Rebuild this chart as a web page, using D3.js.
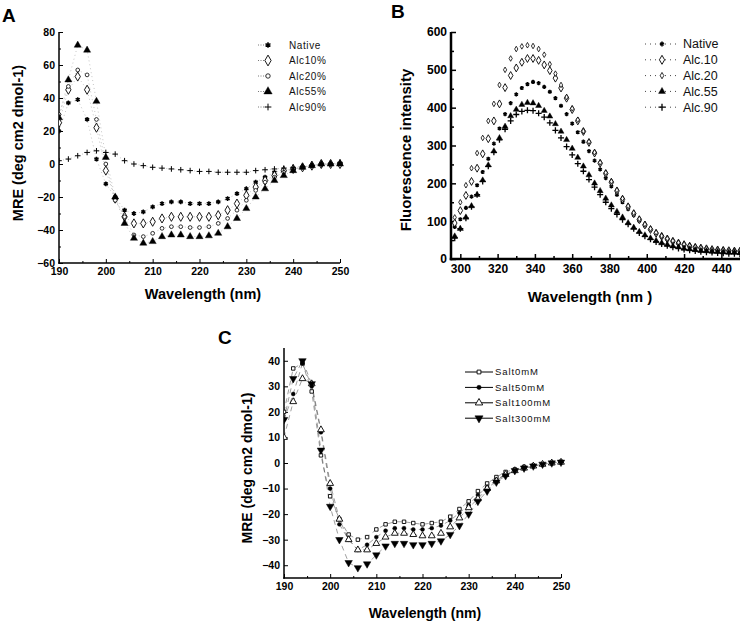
<!DOCTYPE html>
<html><head><meta charset="utf-8">
<script src="https://cdn.jsdelivr.net/npm/d3@7"></script>
<style>body{margin:0;background:#fff;} text{font-family:"Liberation Sans",Arial,sans-serif;}</style>
</head><body>
<svg id="c" width="740" height="621"></svg>
<script>
// ---------- Panel A data (CD spectra, alcohol) ----------
const wlA = d3.range(190, 251, 2);
const A_native = [20,37,39,27,3,-12,-20,-28,-30,-29,-26,-24,-23,-23,-24,-24,-24,-23,-21,-18,-15,-11,-8,-5,-4,-3,-2,-1,0,0,0];
const A_alc10  = [25,45,53,45,22,-4,-21,-32,-36,-36,-35,-33,-32,-32,-32,-32,-32,-31,-28,-24,-19,-14,-10,-7,-4,-3,-2,-1,0,0,0];
const A_alc20  = [30,47,57,54,27,0,-22,-32,-43,-44,-42,-39,-38,-38,-38.5,-38.5,-38,-36,-33,-28,-22,-16,-11,-8,-5,-3,-2,-1,0,0,0];
const A_alc55  = [28,51,72,69,38,4,-20,-36,-45,-48,-47,-44,-43,-43,-44,-44,-43.5,-42,-38,-33,-27,-20,-15,-10,-7,-4,-2,-1,0,0,0];
const A_alc90  = [2,3,5,7,8,7,6,2,0,-1,-2,-2.5,-3,-3.5,-4,-4.5,-4.5,-5,-5,-5,-5,-4,-3.5,-3,-2.5,-2,-1.5,-1,-0.5,0,1];
const A_names  = ["Native","Alc10%","Alc20%","Alc55%","Alc90%"];

// ---------- Panel B data (fluorescence) ----------
const wlB = d3.range(297, 451, 3);
const B_native = [85,105,135,165,195,230,265,305,345,383,412,435,452,462,468,465,455,442,425,405,383,358,335,310,285,260,237,214,192,170,150,132,116,101,88,77,67,59,52,46,41,37,33,30,28,26,24,23,22,21,20,20];
const B_alc10  = [95,128,168,205,240,278,318,365,410,453,485,505,520,530,530,525,513,498,478,452,425,395,365,337,308,280,253,226,203,180,158,138,120,104,90,78,68,60,53,47,42,38,34,31,29,27,25,24,23,22,21,21];
const B_alc20  = [110,150,195,240,280,320,365,410,460,500,530,555,562,565,563,555,540,515,490,460,428,398,368,338,310,282,255,228,205,182,160,140,122,106,92,80,70,61,54,48,43,39,35,32,30,28,26,25,24,23,22,22];
const B_alc55  = [60,80,110,140,170,208,248,285,320,350,378,395,408,413,412,405,392,377,357,337,315,292,268,245,222,200,180,160,142,125,110,95,83,72,63,55,48,42,38,34,31,28,26,24,22,21,20,19,18,17,17,16];
const B_alc90  = [55,80,108,138,170,205,245,282,315,343,365,382,390,393,392,385,375,360,340,320,297,275,252,232,210,190,170,150,133,118,104,92,80,69,60,52,45,40,35,31,28,25,23,21,19,18,17,16,15,14,14,13];
const B_names  = ["Native","Alc.10","Alc.20","Alc.55","Alc.90"];

// ---------- Panel C data (CD spectra, salt) ----------
const wlC = d3.range(190, 251, 2);
const C_salt0   = [20,37,39,28,3,-13,-22,-28,-30,-29,-26,-24,-23,-23,-23.5,-24,-23.5,-23,-21,-18,-15,-11,-8,-5.5,-3.5,-2.5,-1.5,-1,-0.5,0,0.5];
const C_salt50  = [17,27,39,30,12,-10,-24,-30,-34,-32,-29,-26.5,-25.5,-25.5,-26,-26,-25.5,-24.5,-22.5,-19.5,-16.5,-12.5,-9.5,-6.5,-4.5,-3,-2,-1.2,-0.5,0,0.3];
const C_salt100 = [10,24,33,31,13,-8,-22,-30,-34,-34,-31.5,-29,-27.5,-27.5,-28,-28.5,-28.5,-27.5,-25,-21.5,-17.5,-14,-10,-7,-4.5,-3,-2,-1.2,-0.5,0,0.3];
const C_salt300 = [17,33,40,31,5,-17,-30,-39,-41,-39.5,-36,-32.5,-31.5,-31.5,-32,-32,-31.5,-30.5,-28,-24.5,-20,-15,-11,-7.5,-5,-3,-2,-1.2,-0.5,0,0.3];
const C_names   = ["Salt0mM","Salt50mM","Salt100mM","Salt300mM"];

const svg = d3.select("#c");

function sym(kind, size) {
  const map = {
    asterisk: d3.symbolAsterisk || d3.symbolCross,
    diamond: d3.symbolDiamond,
    circle: d3.symbolCircle,
    triangle: d3.symbolTriangle,
    plus: d3.symbolPlus || d3.symbolCross,
    square: d3.symbolSquare,
    tridown: d3.symbolTriangle
  };
  return d3.symbol().type(map[kind]).size(size)();
}
function drawMarker(g, kind, x, y, size, fill, strokeW) {
  return g.append("path").attr("d", sym(kind, size))
    .attr("transform", `translate(${x},${y})` + (kind === "tridown" ? " rotate(180)" : ""))
    .attr("stroke", "#000").attr("stroke-width", strokeW)
    .attr("fill", fill);
}

function panel(cfg) {
  const g = svg.append("g");
  const x = d3.scaleLinear().domain(cfg.xd).range([cfg.l, cfg.r]);
  const y = d3.scaleLinear().domain(cfg.yd).range([cfg.b, cfg.t]);
  const xa = d3.axisBottom(x).tickValues(cfg.xMinor).tickSize(-cfg.minorLen).tickFormat("");
  g.append("g").attr("transform", `translate(0,${cfg.b})`).call(xa);
  const ya = d3.axisLeft(y).tickValues(cfg.yMinor).tickSize(-cfg.minorLen).tickFormat("");
  g.append("g").attr("transform", `translate(${cfg.l},0)`).call(ya);
  const xA = d3.axisBottom(x).tickValues(cfg.xTicks).tickSize(-cfg.majorLen).tickPadding(cfg.xPad).tickFormat(d3.format("d"));
  const gx = g.append("g").attr("transform", `translate(0,${cfg.b})`).call(xA);
  const yA = d3.axisLeft(y).tickValues(cfg.yTicks).tickSize(-cfg.majorLen).tickPadding(cfg.yPad).tickFormat(d3.format("d"));
  const gy = g.append("g").attr("transform", `translate(${cfg.l},0)`).call(yA);
  g.selectAll(".domain").remove();
  g.selectAll(".tick line").attr("stroke", "#000").attr("stroke-width", cfg.tickW);
  [gx, gy].forEach(a => a.selectAll("text").attr("font-size", cfg.tickFont).attr("font-weight", "bold")
    .attr("font-family", "Liberation Sans, Arial, sans-serif").attr("fill", "#000"));
  g.append("line").attr("x1", cfg.l).attr("x2", cfg.l).attr("y1", cfg.t).attr("y2", cfg.b + cfg.axisW/2)
    .attr("stroke", "#000").attr("stroke-width", cfg.axisW);
  g.append("line").attr("x1", cfg.l - cfg.axisW/2).attr("x2", cfg.r).attr("y1", cfg.b).attr("y2", cfg.b)
    .attr("stroke", "#000").attr("stroke-width", cfg.axisW);
  g.append("text").attr("x", cfg.xLab[0]).attr("y", cfg.xLab[1]).attr("text-anchor", "middle")
    .attr("font-size", cfg.labFont).attr("font-weight", "bold").text(cfg.xText);
  g.append("text").attr("transform", `translate(${cfg.yLab[0]},${cfg.yLab[1]}) rotate(-90)`).attr("text-anchor", "middle")
    .attr("font-size", cfg.labFont).attr("font-weight", "bold").text(cfg.yText);
  g.append("text").attr("x", cfg.title[0]).attr("y", cfg.title[1]).attr("font-size", 19).attr("font-weight", "bold")
    .attr("font-family", "Liberation Sans, Arial, sans-serif").text(cfg.titleText);
  const clipId = "clip" + cfg.titleText;
  svg.append("clipPath").attr("id", clipId).append("rect")
    .attr("x", cfg.l).attr("y", cfg.t - 10).attr("width", cfg.r - cfg.l + 10).attr("height", cfg.b - cfg.t + 10);
  const data = g.append("g").attr("clip-path", `url(#${clipId})`);
  cfg.series.forEach(s => {
    const pts = cfg.xs.map((xv, i) => [xv, s.values[i]]);
    data.append("path").attr("d", d3.line().x(d => x(d[0])).y(d => y(d[1]))(pts))
      .attr("fill", "none").attr("stroke", cfg.lineColor).attr("stroke-width", cfg.lineW)
      .attr("stroke-dasharray", cfg.dash).attr("opacity", cfg.lineOpacity);
  });
  cfg.series.forEach(s => {
    cfg.xs.forEach((xv, i) => {
      drawMarker(data, s.kind, x(xv), y(s.values[i]), s.size, s.fill, s.sw);
    });
  });
  const lg = g.append("g");
  cfg.series.forEach((s, i) => {
    const yy = cfg.leg.y0 + i * cfg.leg.dy;
    lg.append("line").attr("x1", cfg.leg.x1).attr("x2", cfg.leg.x2).attr("y1", yy).attr("y2", yy)
      .attr("stroke", cfg.leg.lineColor).attr("stroke-width", cfg.leg.lineW).attr("stroke-dasharray", cfg.leg.dash);
    drawMarker(lg, s.kind, cfg.leg.mx, yy, s.size * cfg.leg.ms, s.fill, s.sw);
    lg.append("text").attr("x", cfg.leg.tx).attr("y", yy).attr("dy", "0.35em")
      .attr("font-size", cfg.leg.font).attr("letter-spacing", cfg.leg.ls).attr("fill", "#111").text(cfg.names[i]);
  });
}

// Panel A
panel({
  titleText: "A", title: [2, 22],
  l: 59, r: 340, t: 32, b: 263, xd: [190, 250], yd: [-60, 80],
  xTicks: d3.range(190, 251, 10), xMinor: d3.range(195, 250, 10),
  yTicks: d3.range(-60, 81, 20), yMinor: d3.range(-50, 80, 20),
  majorLen: 4, minorLen: 2, tickW: 1, axisW: 1.5, xPad: 5, yPad: 4, tickFont: 10.5,
  labFont: 14.5, xText: "Wavelength (nm)", xLab: [203, 299], yText: "MRE (deg cm2 dmol-1)", yLab: [23, 143],
  xs: wlA, names: A_names,
  lineColor: "#666", lineW: 0.7, dash: "1,3", lineOpacity: 0.55,
  series: [
    {values: A_native, kind: "asterisk", size: 16, fill: "none", sw: 1.5},
    {values: A_alc10, kind: "diamond", size: 24, fill: "#fff", sw: 0.9},
    {values: A_alc20, kind: "circle", size: 11, fill: "#fff", sw: 0.8},
    {values: A_alc55, kind: "triangle", size: 22, fill: "#000", sw: 0.4},
    {values: A_alc90, kind: "plus", size: 12, fill: "none", sw: 1}
  ],
  leg: {y0: 45, dy: 15.5, x1: 258, x2: 266, mx: 268, tx: 289, font: 10, ls: "0.6px", lineColor: "#555", lineW: 0.8, dash: "1,1.5", ms: 1.4}
});

// Panel B
panel({
  titleText: "B", title: [391, 18],
  l: 451, r: 740, t: 32, b: 259, xd: [295, 450], yd: [0, 600],
  xTicks: d3.range(300, 441, 20), xMinor: d3.range(310, 451, 20),
  yTicks: d3.range(0, 601, 100), yMinor: d3.range(50, 600, 100),
  majorLen: 5, minorLen: 3, tickW: 1.5, axisW: 2.5, xPad: 5, yPad: 4, tickFont: 12,
  labFont: 15, xText: "Wavelength (nm )", xLab: [590, 302], yText: "Fluorescence intensity", yLab: [411, 150],
  xs: wlB, names: B_names,
  lineColor: "#888", lineW: 0.6, dash: "1,4", lineOpacity: 0.0,
  series: [
    {values: B_native, kind: "asterisk", size: 12, fill: "none", sw: 1.5},
    {values: B_alc10, kind: "diamond", size: 18, fill: "#fff", sw: 0.9},
    {values: B_alc20, kind: "diamond", size: 9, fill: "#fff", sw: 0.8},
    {values: B_alc55, kind: "triangle", size: 16, fill: "#000", sw: 0.4},
    {values: B_alc90, kind: "plus", size: 14, fill: "none", sw: 1.3}
  ],
  leg: {y0: 44, dy: 15.8, x1: 645, x2: 680, mx: 662, tx: 683, font: 12.5, ls: "0px", lineColor: "#444", lineW: 1, dash: "1,4", ms: 1.3}
});

// Panel C
panel({
  titleText: "C", title: [218, 344],
  l: 284, r: 561, t: 348, b: 578, xd: [190, 250], yd: [-45, 45],
  xTicks: d3.range(190, 251, 10), xMinor: d3.range(195, 250, 10),
  yTicks: d3.range(-40, 41, 10), yMinor: [],
  majorLen: 4, minorLen: 2, tickW: 1, axisW: 1.5, xPad: 5, yPad: 4, tickFont: 10.5,
  labFont: 14, xText: "Wavelength (nm)", xLab: [425, 618], yText: "MRE (deg cm2 dmol-1)", yLab: [252, 468],
  xs: wlC, names: C_names,
  lineColor: "#333", lineW: 0.8, dash: "5,4", lineOpacity: 0.6,
  series: [
    {values: C_salt0, kind: "square", size: 12, fill: "#fff", sw: 0.9},
    {values: C_salt50, kind: "circle", size: 12, fill: "#000", sw: 0.5},
    {values: C_salt100, kind: "triangle", size: 20, fill: "#fff", sw: 0.9},
    {values: C_salt300, kind: "tridown", size: 24, fill: "#000", sw: 0.5}
  ],
  leg: {y0: 372, dy: 15.4, x1: 465, x2: 493, mx: 479, tx: 495, font: 9.5, ls: "0.9px", lineColor: "#000", lineW: 1, dash: null, ms: 1.2}
});
</script>
</body></html>
